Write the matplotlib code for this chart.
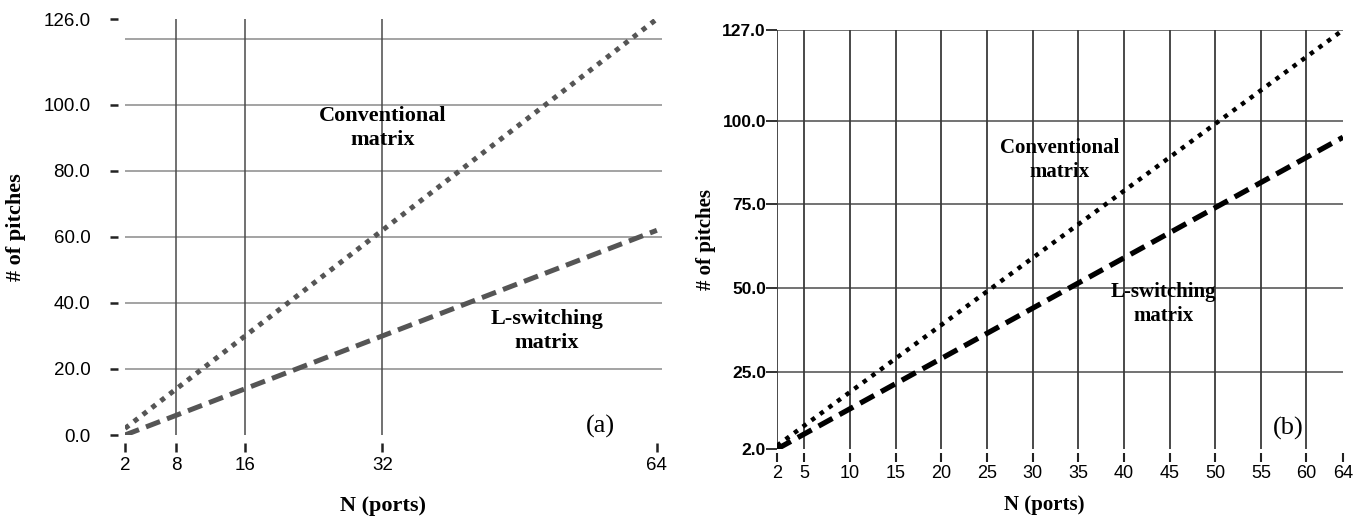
import matplotlib
matplotlib.use("Agg")
import matplotlib.pyplot as plt

# (a) data
n_a = [2, 8, 16, 24, 32, 40, 48, 56, 64]
conv_a = [2, 14, 30, 46, 62, 78, 94, 110, 126]
lsw_a = [0, 6, 14, 22, 30, 38, 46, 54, 62]
xticks_a = [2, 8, 16, 32, 64]
yticks_a = [0, 20, 40, 60, 80, 100, 126]
hgrid_a = [20, 40, 60, 80, 100, 120]
vgrid_a = [8, 16, 32]

# (b) data
n_b = [2, 5, 10, 15, 20, 25, 30, 35, 40, 45, 50, 55, 60, 64]
conv_b = [3, 9, 19, 29, 39, 49, 59, 69, 79, 89, 99, 109, 119, 127]
lsw_b = [2, 6.5, 14, 21.5, 29, 36.5, 44, 51.5, 59, 66.5, 74, 81.5, 89, 95]
xticks_b = [2, 5, 10, 15, 20, 25, 30, 35, 40, 45, 50, 55, 60, 64]
yticks_b = [2, 25, 50, 75, 100, 127]
hgrid_b = [25, 50, 75, 100, 127]
vgrid_b = [2, 5, 10, 15, 20, 25, 30, 35, 40, 45, 50, 55, 60]

W, H = 1366, 518
fig = plt.figure(figsize=(W / 100, H / 100), dpi=100)
serif = "Liberation Serif"
sans = "Liberation Sans"

# ---------- panel (a)
ax = fig.add_axes([125 / W, 83 / H, 537 / W, 416 / H])
for y in hgrid_a:
    ax.axhline(y, color="#8a8a8a", lw=1.1, zorder=1)
for x in vgrid_a:
    ax.axvline(x, color="#4a4a4a", lw=1.1, zorder=1)
ax.plot(n_a, conv_a, color="#555555", lw=3.6, ls=(0, (1, 1.25)),
        dash_capstyle="butt", zorder=3)
ax.plot(n_a, lsw_a, color="#555555", lw=3.6, ls=(0, (3, 1.5)),
        dash_capstyle="butt", zorder=3)
ax.set_xlim(2, 64.6)
ax.set_ylim(0, 126)
for s in ax.spines.values():
    s.set_visible(False)
ax.spines["left"].set_position(("outward", 5))
ax.spines["bottom"].set_position(("outward", 6))
ax.set_xticks(xticks_a)
ax.set_xticklabels([str(v) for v in xticks_a], fontfamily=sans, fontsize=13.5)
ax.set_yticks(yticks_a)
ax.set_yticklabels([f"{v:.1f}" for v in yticks_a], fontfamily=sans, fontsize=13.5)
ax.tick_params(axis="x", direction="out", length=6.5, width=1.8, pad=3, color="#222222")
ax.tick_params(axis="y", direction="out", length=6, width=1.8, pad=14, color="#222222")
ax.set_ylabel("# of pitches", fontfamily=serif, fontweight="bold", fontsize=16)
ax.yaxis.set_label_coords(-0.185, 0.5)
ax.set_xlabel("N (ports)", fontfamily=serif, fontweight="bold", fontsize=16)
ax.xaxis.set_label_coords(0.48, -0.147)
ax.text(32, 93, "Conventional\nmatrix", ha="center", va="center",
        fontfamily=serif, fontweight="bold", fontsize=16, linespacing=1.3)
ax.text(51.2, 31.5, "L-switching\nmatrix", ha="center", va="center",
        fontfamily=serif, fontweight="bold", fontsize=16, linespacing=1.3)
ax.text(0.886, 0.02, "(a)", transform=ax.transAxes, ha="center", va="center",
        fontfamily=serif, fontsize=19)

# ---------- panel (b)
bx = fig.add_axes([777 / W, 69 / H, 566 / W, 419 / H])
for y in hgrid_b:
    bx.axhline(y, color="#5a5a5a", lw=1.2, zorder=1)
for x in vgrid_b:
    bx.axvline(x, color="#3a3a3a", lw=1.3, zorder=1)
bx.plot(n_b, conv_b, color="black", lw=3.2, ls=(0, (1, 1.4)),
        dash_capstyle="butt", zorder=3)
bx.plot(n_b, lsw_b, color="black", lw=3.8, ls=(0, (3, 1.5)),
        dash_capstyle="butt", zorder=3)
bx.set_xlim(2, 64)
bx.set_ylim(2, 127)
for s in bx.spines.values():
    s.set_visible(False)
bx.spines["bottom"].set_position(("outward", 3))
bx.set_xticks(xticks_b)
bx.set_xticklabels([str(v) for v in xticks_b], fontfamily=sans, fontsize=13)
bx.set_yticks(yticks_b)
bx.set_yticklabels([f"{v:.1f}" for v in yticks_b], fontfamily=sans,
                   fontsize=12.5, fontweight="bold")
bx.tick_params(axis="x", direction="out", length=6.5, width=1.5, pad=2, color="#222222")
bx.tick_params(axis="y", direction="out", length=8, width=1.3, pad=0, color="#222222")
bx.set_ylabel("# of pitches", fontfamily=serif, fontweight="bold", fontsize=15)
bx.yaxis.set_label_coords(-0.108, 0.5)
bx.set_xlabel("N (ports)", fontfamily=serif, fontweight="bold", fontsize=15)
bx.xaxis.set_label_coords(0.473, -0.11)
bx.text(33, 88.2, "Conventional\nmatrix", ha="center", va="center",
        fontfamily=serif, fontweight="bold", fontsize=15, linespacing=1.3)
bx.text(44.3, 45.3, "L-switching\nmatrix", ha="center", va="center",
        fontfamily=serif, fontweight="bold", fontsize=15, linespacing=1.3)
bx.text(0.903, 0.05, "(b)", transform=bx.transAxes, ha="center", va="center",
        fontfamily=serif, fontsize=19)

fig.savefig("out.png", dpi=100)
